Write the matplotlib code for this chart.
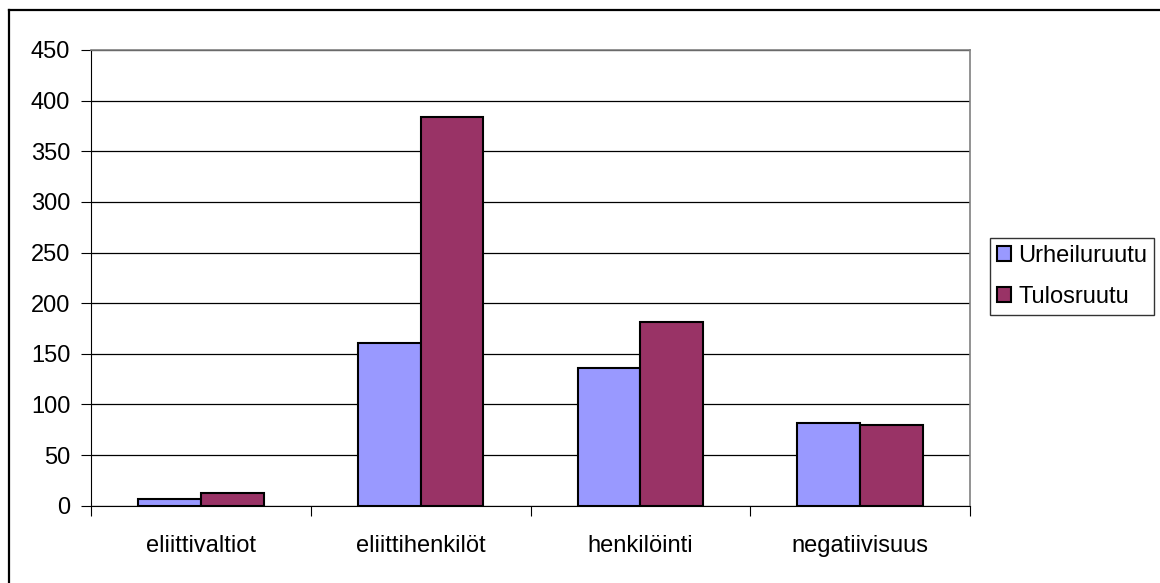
import numpy as np
import matplotlib.pyplot as plt
from matplotlib.lines import Line2D

# data
categories = ['eliittivaltiot', 'eliittihenkilöt', 'henkilöinti', 'negatiivisuus']
urheiluruutu = [7, 161, 136, 82]
tulosruutu = [13, 384, 181, 80]

plt.rcParams['font.family'] = ['Liberation Sans', 'DejaVu Sans']

fig = plt.figure(figsize=(11.6, 5.83), dpi=100)
W, H = 1160, 583
ax = fig.add_axes([91 / W, 1 - 505.7 / H, (970 - 91) / W, (505.7 - 50) / H])

x = np.arange(len(categories)) + 0.5
bw = 1 / 3.5
ax.bar(x - bw / 2, urheiluruutu, bw, color='#9999FF', edgecolor='black', linewidth=1.5,
       label='Urheiluruutu', zorder=3)
ax.bar(x + bw / 2, tulosruutu, bw, color='#993366', edgecolor='black', linewidth=1.5,
       label='Tulosruutu', zorder=3)

ax.set_xlim(0, 4)
ax.set_ylim(0, 450)
ax.set_yticks(np.arange(0, 451, 50))
ax.yaxis.grid(True, color='black', linewidth=0.9)
ax.set_axisbelow(True)

# category labels between boundary ticks
ax.set_xticks(np.arange(0, 5))
ax.set_xticklabels([])
ax.set_xticks(x, minor=True)
ax.set_xticklabels(categories, minor=True)
ax.tick_params(axis='x', which='minor', length=0, pad=21, labelsize=17)
ax.tick_params(axis='x', which='major', length=7, direction='out', color='black')
ax.tick_params(axis='y', length=7, direction='out', pad=8, labelsize=17)

for s in ['top', 'right']:
    ax.spines[s].set_color('#808080')
    ax.spines[s].set_linewidth(1.2)
ax.spines['left'].set_color('black')
ax.spines['bottom'].set_color('black')

leg = fig.legend(loc='upper left', bbox_to_anchor=(990 / W, 1 - 238 / H),
                 fontsize=17, frameon=True, fancybox=False, shadow=False,
                 handlelength=0.6, handleheight=0.6, handletextpad=0.3,
                 borderpad=0.3, labelspacing=0.8, borderaxespad=0)
leg.get_frame().set_edgecolor('black')
leg.get_frame().set_linewidth(1.0)

# outer chart border
fig.add_artist(Line2D([9 / W, 9 / W], [0, 1 - 10 / H], color='black', linewidth=1.6,
                      transform=fig.transFigure))
fig.add_artist(Line2D([9 / W, 1], [1 - 10 / H, 1 - 10 / H], color='black', linewidth=1.6,
                      transform=fig.transFigure))

plt.savefig('out.png', dpi=100)
